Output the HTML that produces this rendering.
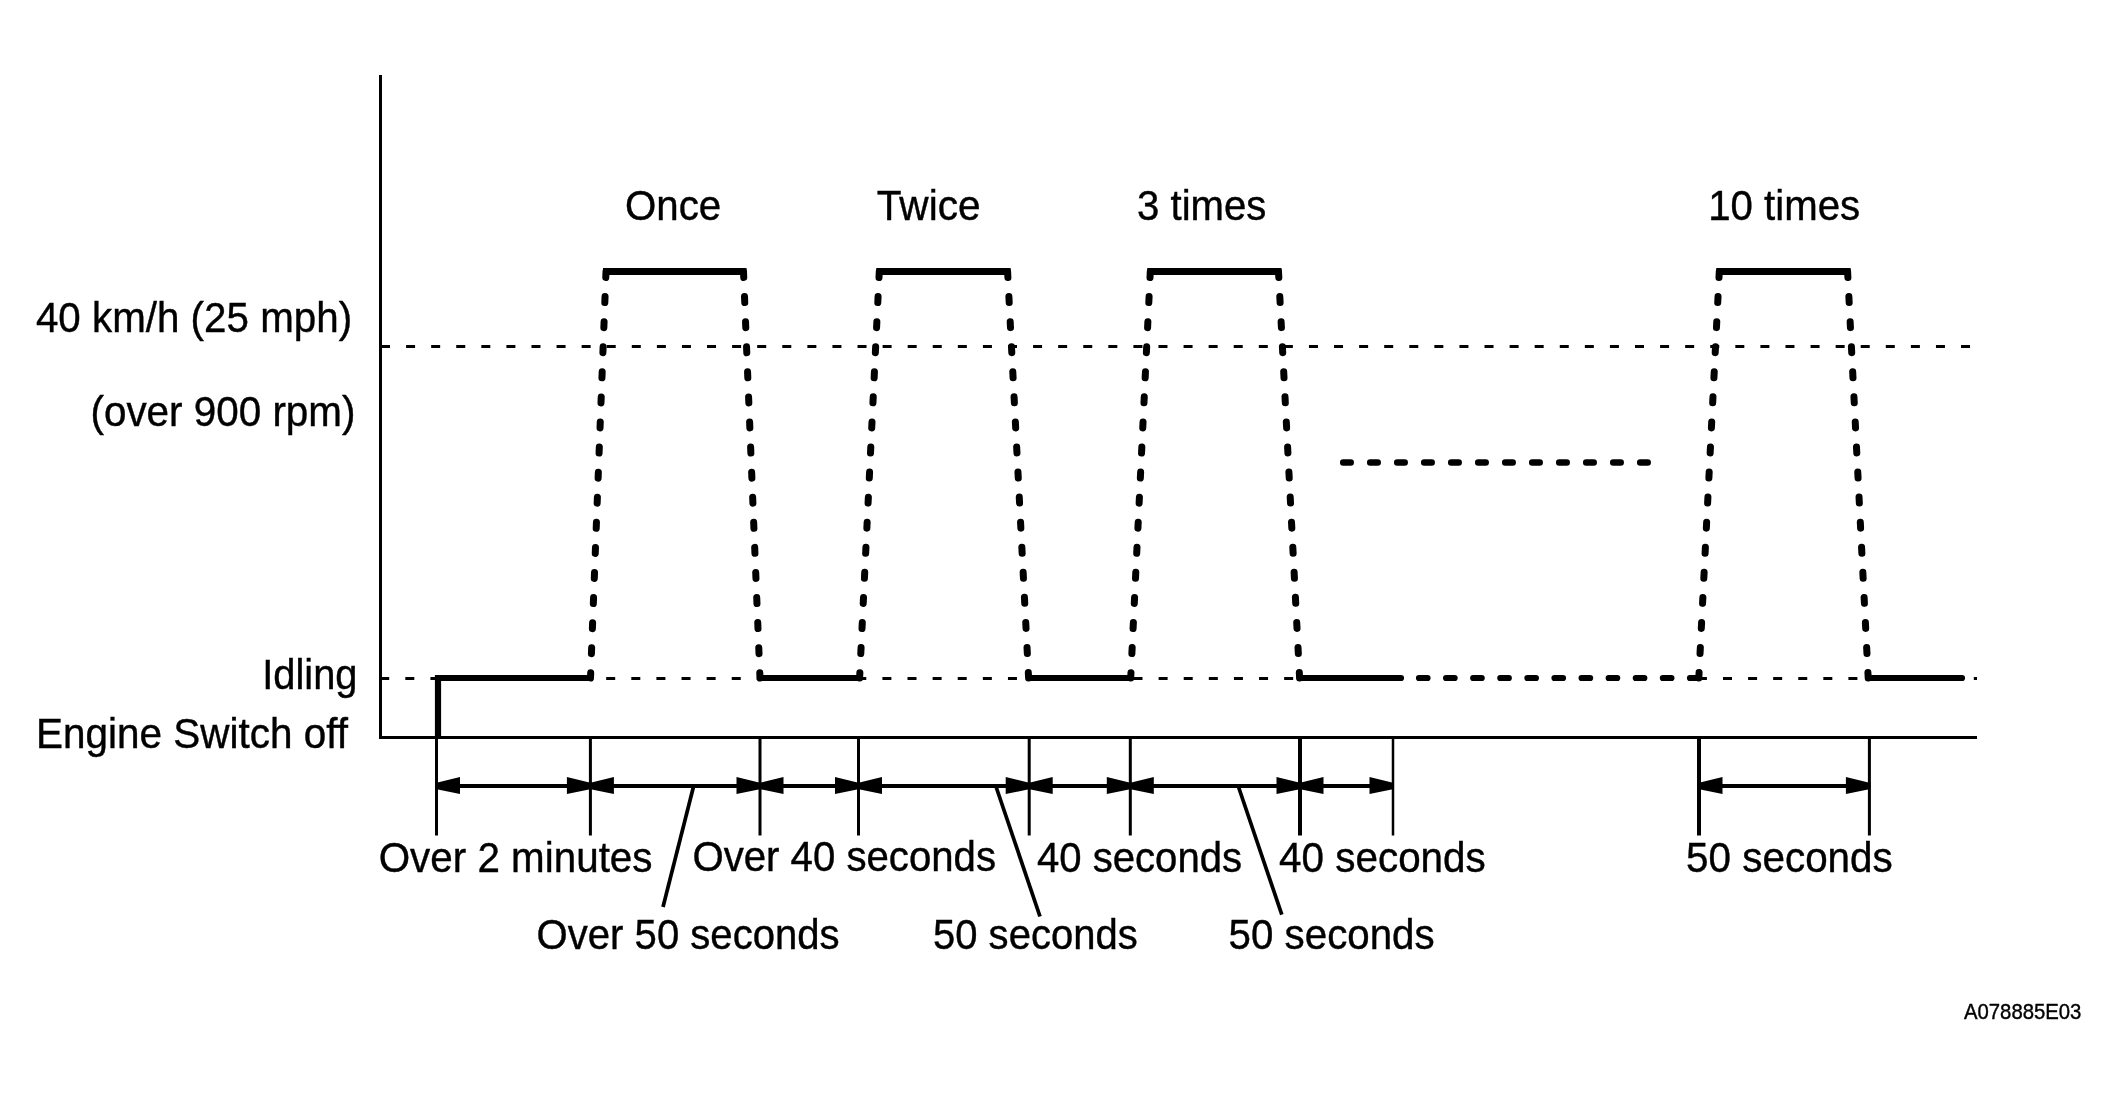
<!DOCTYPE html><html><head><meta charset="utf-8"><style>html,body{margin:0;padding:0;background:#fff;}svg{display:block;will-change:transform}text{font-family:"Liberation Sans",sans-serif;font-size:40px;fill:#000;stroke:#000;stroke-width:0.4px}</style></head><body>
<svg width="2118" height="1094" viewBox="0 0 2118 1094">
<rect width="100%" height="100%" fill="#fff"/>
<rect x="379" y="75" width="3" height="664" fill="#000"/>
<rect x="379" y="736" width="1598" height="3" fill="#000"/>
<line x1="381" y1="346.5" x2="1977" y2="346.5" stroke="#000" stroke-width="3" stroke-dasharray="9 16.08"/>
<line x1="380.2" y1="678.5" x2="1300" y2="678.5" stroke="#000" stroke-width="3" stroke-dasharray="9 16.11"/>
<line x1="1697.92" y1="678.5" x2="1977" y2="678.5" stroke="#000" stroke-width="3" stroke-dasharray="9 16.08"/>
<path d="M438,737 V678 H590.5 M760,678 H859.6 M1028.6,678 H1130.7" fill="none" stroke="#000" stroke-width="6.2"/>
<path d="M1299.6,678 H1401 M1868.2,678 H1962" fill="none" stroke="#000" stroke-width="6.2" stroke-linecap="round"/>
<line x1="1419" y1="678" x2="1698.8" y2="678" stroke="#000" stroke-width="6.2" stroke-linecap="round" stroke-dasharray="8.5 18.6"/>
<line x1="1343.2" y1="462.5" x2="1649" y2="462.5" stroke="#000" stroke-width="6.5" stroke-linecap="round" stroke-dasharray="7.5 19.5"/>
<line x1="603" y1="271.5" x2="746.5" y2="271.5" stroke="#000" stroke-width="7"/>
<line x1="606" y1="271.5" x2="590.5" y2="678" stroke="#000" stroke-width="7" stroke-linecap="round" stroke-dasharray="6 19.1"/>
<line x1="743.5" y1="271.5" x2="760" y2="678" stroke="#000" stroke-width="7" stroke-linecap="round" stroke-dasharray="6 19.1"/>
<line x1="876.3" y1="271.5" x2="1010.6" y2="271.5" stroke="#000" stroke-width="7"/>
<line x1="879.3" y1="271.5" x2="859.6" y2="678" stroke="#000" stroke-width="7" stroke-linecap="round" stroke-dasharray="6 19.1"/>
<line x1="1007.6" y1="271.5" x2="1028.6" y2="678" stroke="#000" stroke-width="7" stroke-linecap="round" stroke-dasharray="6 19.1"/>
<line x1="1147.3" y1="271.5" x2="1281.5" y2="271.5" stroke="#000" stroke-width="7"/>
<line x1="1150.3" y1="271.5" x2="1130.7" y2="678" stroke="#000" stroke-width="7" stroke-linecap="round" stroke-dasharray="6 19.1"/>
<line x1="1278.5" y1="271.5" x2="1299.6" y2="678" stroke="#000" stroke-width="7" stroke-linecap="round" stroke-dasharray="6 19.1"/>
<line x1="1716.3" y1="271.5" x2="1850.6" y2="271.5" stroke="#000" stroke-width="7"/>
<line x1="1719.3" y1="271.5" x2="1698.8" y2="678" stroke="#000" stroke-width="7" stroke-linecap="round" stroke-dasharray="6 19.1"/>
<line x1="1847.6" y1="271.5" x2="1868.2" y2="678" stroke="#000" stroke-width="7" stroke-linecap="round" stroke-dasharray="6 19.1"/>
<rect x="435.0" y="737" width="3" height="98.5" fill="#000"/>
<rect x="588.9" y="737" width="3" height="98.5" fill="#000"/>
<rect x="758.5" y="737" width="3" height="98.5" fill="#000"/>
<rect x="857.0" y="737" width="3" height="98.5" fill="#000"/>
<rect x="1027.7" y="737" width="3" height="98.5" fill="#000"/>
<rect x="1128.8" y="737" width="3" height="98.5" fill="#000"/>
<rect x="1298.0" y="737" width="4" height="98.5" fill="#000"/>
<rect x="1391.75" y="737" width="2.5" height="98.5" fill="#000"/>
<rect x="1697.0" y="737" width="4" height="98.5" fill="#000"/>
<rect x="1867.9" y="737" width="3" height="98.5" fill="#000"/>
<rect x="436.5" y="784" width="153.89999999999998" height="4" fill="#000"/>
<path d="M435.5,783 L460.0,777 L460.0,794 L435.5,789 Z M591.4,783 L566.9,777 L566.9,794 L591.4,789 Z" fill="#000"/>
<rect x="590.4" y="784" width="169.60000000000002" height="4" fill="#000"/>
<path d="M589.4,783 L613.9,777 L613.9,794 L589.4,789 Z M761,783 L736.5,777 L736.5,794 L761,789 Z" fill="#000"/>
<rect x="760" y="784" width="98.5" height="4" fill="#000"/>
<path d="M759,783 L783.5,777 L783.5,794 L759,789 Z M859.5,783 L835.0,777 L835.0,794 L859.5,789 Z" fill="#000"/>
<rect x="858.5" y="784" width="170.70000000000005" height="4" fill="#000"/>
<path d="M857.5,783 L882.0,777 L882.0,794 L857.5,789 Z M1030.2,783 L1005.7,777 L1005.7,794 L1030.2,789 Z" fill="#000"/>
<rect x="1029.2" y="784" width="101.09999999999991" height="4" fill="#000"/>
<path d="M1028.2,783 L1052.7,777 L1052.7,794 L1028.2,789 Z M1131.3,783 L1106.8,777 L1106.8,794 L1131.3,789 Z" fill="#000"/>
<rect x="1130.3" y="784" width="169.70000000000005" height="4" fill="#000"/>
<path d="M1129.3,783 L1153.8,777 L1153.8,794 L1129.3,789 Z M1301,783 L1276.5,777 L1276.5,794 L1301,789 Z" fill="#000"/>
<rect x="1300" y="784" width="93" height="4" fill="#000"/>
<path d="M1299,783 L1323.5,777 L1323.5,794 L1299,789 Z M1394,783 L1369.5,777 L1369.5,794 L1394,789 Z" fill="#000"/>
<rect x="1699" y="784" width="170.4000000000001" height="4" fill="#000"/>
<path d="M1698,783 L1722.5,777 L1722.5,794 L1698,789 Z M1870.4,783 L1845.9,777 L1845.9,794 L1870.4,789 Z" fill="#000"/>
<line x1="693.4" y1="787" x2="663" y2="907" stroke="#000" stroke-width="3.7"/>
<line x1="995.8" y1="786" x2="1040" y2="916.5" stroke="#000" stroke-width="3.7"/>
<line x1="1238.2" y1="786" x2="1281.8" y2="914.6" stroke="#000" stroke-width="3.7"/>
<text x="625.00" y="220.00" style="font-size:41.8px" textLength="96.18" lengthAdjust="spacingAndGlyphs">Once</text>
<text x="876.80" y="220.00" style="font-size:41.8px" textLength="103.71" lengthAdjust="spacingAndGlyphs">Twice</text>
<text x="1137.10" y="220.00" style="font-size:41.8px" textLength="129.30" lengthAdjust="spacingAndGlyphs">3 times</text>
<text x="1708.20" y="220.00" style="font-size:41.8px" textLength="151.89" lengthAdjust="spacingAndGlyphs">10 times</text>
<text x="35.90" y="332.00" style="font-size:41.8px" textLength="316.19" lengthAdjust="spacingAndGlyphs">40 km/h (25 mph)</text>
<text x="90.50" y="426.30" style="font-size:41.8px" textLength="264.92" lengthAdjust="spacingAndGlyphs">(over 900 rpm)</text>
<text x="262.20" y="688.80" style="font-size:41.8px" textLength="95.26" lengthAdjust="spacingAndGlyphs">Idling</text>
<text x="36.00" y="748.20" style="font-size:41.8px" textLength="311.95" lengthAdjust="spacingAndGlyphs">Engine Switch off</text>
<text x="378.70" y="872.00" style="font-size:41.8px" textLength="273.85" lengthAdjust="spacingAndGlyphs">Over 2 minutes</text>
<text x="692.40" y="871.40" style="font-size:41.8px" textLength="303.61" lengthAdjust="spacingAndGlyphs">Over 40 seconds</text>
<text x="1036.90" y="872.00" style="font-size:41.8px" textLength="205.21" lengthAdjust="spacingAndGlyphs">40 seconds</text>
<text x="1279.10" y="872.00" style="font-size:41.8px" textLength="206.64" lengthAdjust="spacingAndGlyphs">40 seconds</text>
<text x="1686.10" y="872.00" style="font-size:41.8px" textLength="206.67" lengthAdjust="spacingAndGlyphs">50 seconds</text>
<text x="536.60" y="949.00" style="font-size:41.8px" textLength="303.01" lengthAdjust="spacingAndGlyphs">Over 50 seconds</text>
<text x="933.00" y="949.00" style="font-size:41.8px" textLength="204.65" lengthAdjust="spacingAndGlyphs">50 seconds</text>
<text x="1228.60" y="949.00" style="font-size:41.8px" textLength="206.05" lengthAdjust="spacingAndGlyphs">50 seconds</text>
<text x="1964.00" y="1019.00" style="font-size:21.6px" textLength="117.42" lengthAdjust="spacingAndGlyphs">A078885E03</text>
</svg></body></html>
